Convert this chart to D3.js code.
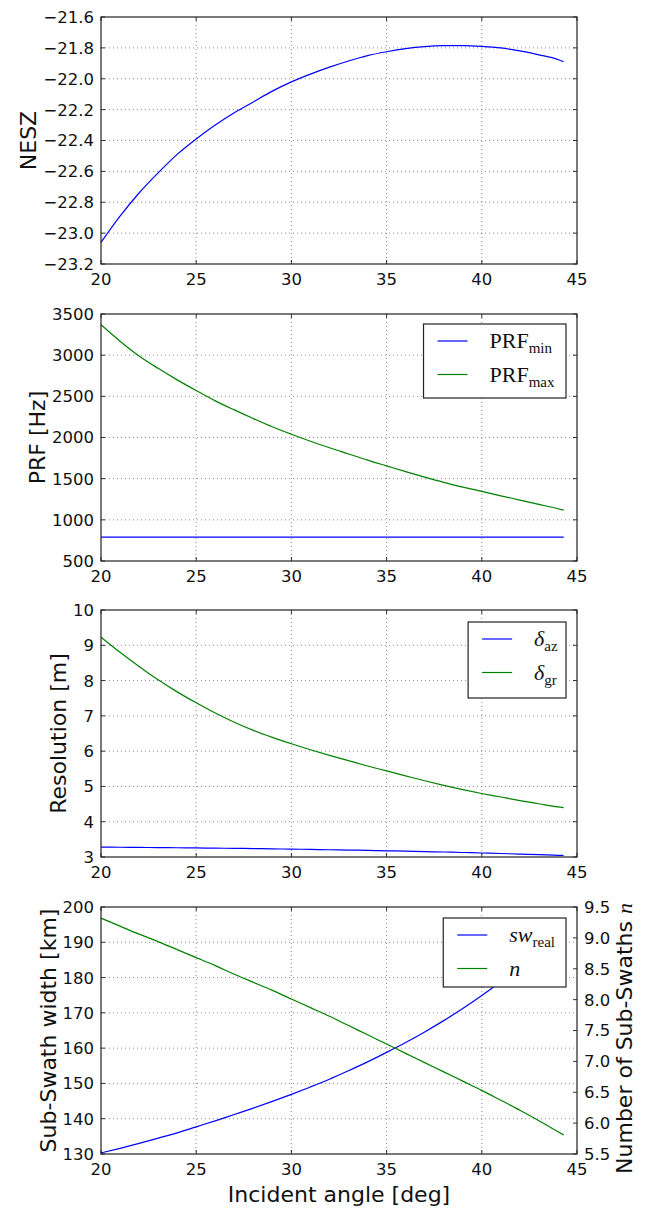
<!DOCTYPE html>
<html><head><meta charset="utf-8">
<script src="https://cdn.jsdelivr.net/npm/d3@7"></script>
<style>body{margin:0;background:#fff}svg{display:block}</style>
</head><body>
<svg id="chart" width="648" height="1211"></svg>
<script>
// ---- data ----
const angles = [20,21,22,23,24,25,26,27,28,29,30,31,32,33,34,35,36,37,38,39,40,41,42,43,44,44.3];
const nesz = [-23.06,-22.89,-22.74,-22.61,-22.49,-22.39,-22.30,-22.22,-22.15,-22.08,-22.02,-21.97,-21.925,-21.885,-21.85,-21.825,-21.805,-21.792,-21.786,-21.785,-21.79,-21.80,-21.82,-21.845,-21.875,-21.89];
const prfMin = [790,790,790,790,790,790,790,790,790,790,790,790,790,790,790,790,790,790,790,790,790,790,790,790,790,790];
const prfMax = [3370,3170,2990,2840,2700,2570,2445,2335,2230,2130,2040,1955,1875,1800,1725,1655,1585,1518,1455,1398,1345,1292,1240,1188,1135,1118];
const resAz = [3.28,3.276,3.272,3.267,3.262,3.257,3.251,3.245,3.238,3.231,3.223,3.215,3.206,3.197,3.187,3.176,3.165,3.153,3.141,3.128,3.114,3.099,3.083,3.066,3.048,3.043];
const resGr = [9.23,8.80,8.40,8.02,7.68,7.37,7.08,6.82,6.59,6.39,6.21,6.04,5.88,5.73,5.58,5.44,5.30,5.16,5.03,4.91,4.80,4.70,4.60,4.51,4.42,4.40];
const swReal = [130.3,131.6,133.0,134.5,136.0,137.7,139.4,141.2,143.0,144.9,146.9,149.0,151.2,153.6,156.1,158.8,161.6,164.6,167.8,171.2,174.9,178.9,183.3,188.1,193.3,195.0];
const nSub = [9.32,9.19,9.06,8.94,8.81,8.68,8.55,8.41,8.28,8.15,8.01,7.87,7.73,7.58,7.43,7.28,7.13,6.98,6.83,6.68,6.53,6.37,6.21,6.04,5.86,5.81];

const xTicks = [20,25,30,35,40,45];
const neszTicks = [-23.2,-23.0,-22.8,-22.6,-22.4,-22.2,-22.0,-21.8,-21.6];
const prfTicks = [500,1000,1500,2000,2500,3000,3500];
const resTicks = [3,4,5,6,7,8,9,10];
const swTicks = [130,140,150,160,170,180,190,200];
const nTicks = [5.5,6.0,6.5,7.0,7.5,8.0,8.5,9.0,9.5];

const yLabels = ["NESZ","PRF [Hz]","Resolution [m]","Sub-Swath width [km]"];
const xLabel = "Incident angle [deg]";
const rightLabel = "Number of Sub-Swaths ";

// ---- layout ----
const L = 101, R = 577, PH = 247;
const tops = [17, 314, 610, 907];
const BLUE = "#0000ff", GREEN = "#008000";
const SANS = "DejaVu Sans, sans-serif", SERIF = "Liberation Serif, serif";
const TICKF = 16.5, LABF = 22;

const svg = d3.select("#chart");
const x = d3.scaleLinear().domain([20, 45]).range([L, R]);

function drawPanel(i, yDom, yTicks, yFmt, series, legend, right) {
  const top = tops[i], bot = top + PH;
  const y = d3.scaleLinear().domain(yDom).range([bot, top]);
  const g = svg.append("g");
  // grid
  const grid = g.append("g").attr("stroke", "#000").attr("stroke-width", 0.6)
    .attr("stroke-dasharray", "1,3").attr("opacity", 0.75);
  xTicks.slice(1, -1).forEach(t => grid.append("line").attr("x1", x(t)).attr("x2", x(t)).attr("y1", top).attr("y2", bot));
  yTicks.slice(1, -1).forEach(t => grid.append("line").attr("x1", L).attr("x2", R).attr("y1", y(t)).attr("y2", y(t)));
  // series
  series.forEach(s => {
    const ys = s.scale || y;
    const ln = d3.line().curve(d3.curveMonotoneX).x((d, k) => x(angles[k])).y(d => ys(d));
    g.append("path").attr("d", ln(s.values)).attr("fill", "none")
      .attr("stroke", s.color).attr("stroke-width", 1.2);
  });
  // ticks (inward, all sides)
  const tk = g.append("g").attr("stroke", "#000").attr("stroke-width", 0.8);
  xTicks.forEach(t => {
    tk.append("line").attr("x1", x(t)).attr("x2", x(t)).attr("y1", bot).attr("y2", bot - 4);
    tk.append("line").attr("x1", x(t)).attr("x2", x(t)).attr("y1", top).attr("y2", top + 4);
  });
  yTicks.forEach(t => {
    tk.append("line").attr("x1", L).attr("x2", L + 4).attr("y1", y(t)).attr("y2", y(t));
    if (!right) tk.append("line").attr("x1", R).attr("x2", R - 4).attr("y1", y(t)).attr("y2", y(t));
  });
  // frame
  g.append("rect").attr("x", L).attr("y", top).attr("width", R - L).attr("height", PH)
    .attr("fill", "none").attr("stroke", "#222").attr("stroke-width", 1.2);
  // tick labels
  const lab = g.append("g").attr("font-family", SANS).attr("font-size", TICKF).attr("fill", "#111");
  xTicks.forEach(t => lab.append("text").attr("x", x(t)).attr("y", bot + 15).attr("dy", "0.36em")
    .attr("text-anchor", "middle").text(d3.format("d")(t)));
  const yl = lab.append("g");
  yTicks.forEach(t => yl.append("text").attr("x", L - 7).attr("y", y(t)).attr("dy", "0.36em")
    .attr("text-anchor", "end").text(yFmt(t)));
  const bb = yl.node().getBBox();
  g.append("text").attr("transform", `translate(${bb.x - 7},${top + PH / 2}) rotate(-90)`)
    .attr("text-anchor", "middle").attr("font-family", SANS).attr("font-size", LABF).attr("fill", "#111")
    .text(yLabels[i]);
  // right axis
  if (right) {
    const yr = d3.scaleLinear().domain(right.dom).range([bot, top]);
    right.ticks.forEach(t => {
      tk.append("line").attr("x1", R).attr("x2", R - 4).attr("y1", yr(t)).attr("y2", yr(t));
      lab.append("text").attr("x", R + 7).attr("y", yr(t)).attr("dy", "0.36em")
        .attr("text-anchor", "start").text(d3.format(".1f")(t));
    });
    const rt = g.append("text").attr("transform", `translate(${R + 55},${top + PH / 2 + 8}) rotate(-90)`)
      .attr("text-anchor", "middle").attr("font-family", SANS).attr("font-size", LABF).attr("fill", "#111");
    rt.append("tspan").text(rightLabel);
    rt.append("tspan").attr("font-family", SERIF).attr("font-style", "italic").text("n");
  }
  // legend
  if (legend) {
    const lg = g.append("g");
    const box = lg.append("rect").attr("fill", "#fff").attr("stroke", "#222").attr("stroke-width", 1.2);
    const bx = R - 11, by = top + legend.dy;
    let maxW = 0;
    const texts = [];
    legend.items.forEach((it, k) => {
      const ly = by + 17 + k * 33.5;
      const t = lg.append("text").attr("y", ly + 7).attr("font-family", SERIF).attr("font-size", 22).attr("fill", "#111");
      t.append("tspan").attr("font-style", it.italic ? "italic" : "normal").text(it.main);
      if (it.sub) t.append("tspan").attr("font-size", 15).attr("dy", 5).text(it.sub);
      texts.push({ t, ly, color: it.color });
      maxW = Math.max(maxW, t.node().getBBox().width);
    });
    const bl = bx - (legend.padR || 11) - maxW - 66;
    box.attr("x", bl).attr("y", by).attr("width", bx - bl).attr("height", legend.h);
    texts.forEach(o => {
      o.t.attr("x", bl + 66);
      lg.append("line").attr("x1", bl + 14).attr("x2", bl + 44).attr("y1", o.ly).attr("y2", o.ly)
        .attr("stroke", o.color).attr("stroke-width", 1.2);
    });
  }
  return y;
}

drawPanel(0, [-23.2, -21.6], neszTicks, d3.format(".1f"),
  [{ values: nesz, color: BLUE }], null, null);
drawPanel(1, [500, 3500], prfTicks, d3.format("d"),
  [{ values: prfMin, color: BLUE }, { values: prfMax, color: GREEN }],
  { dy: 10, h: 74, items: [{ main: "PRF", sub: "min", color: BLUE }, { main: "PRF", sub: "max", color: GREEN }] }, null);
drawPanel(2, [3, 10], resTicks, d3.format("d"),
  [{ values: resAz, color: BLUE }, { values: resGr, color: GREEN }],
  { dy: 12, h: 76, padR: 8, items: [{ main: "δ", italic: true, sub: "az", color: BLUE }, { main: "δ", italic: true, sub: "gr", color: GREEN }] }, null);
const yN = d3.scaleLinear().domain([5.5, 9.5]).range([tops[3] + PH, tops[3]]);
drawPanel(3, [130, 200], swTicks, d3.format("d"),
  [{ values: swReal, color: BLUE }, { values: nSub, color: GREEN, scale: yN }],
  { dy: 11, h: 69, items: [{ main: "sw", italic: true, sub: "real", color: BLUE }, { main: "n", italic: true, color: GREEN }] },
  { dom: [5.5, 9.5], ticks: nTicks });

svg.append("text").attr("x", (L + R) / 2).attr("y", tops[3] + PH + 40).attr("dy", "0.36em")
  .attr("text-anchor", "middle").attr("font-family", SANS).attr("font-size", LABF).attr("fill", "#111")
  .text(xLabel);
</script>
</body></html>
